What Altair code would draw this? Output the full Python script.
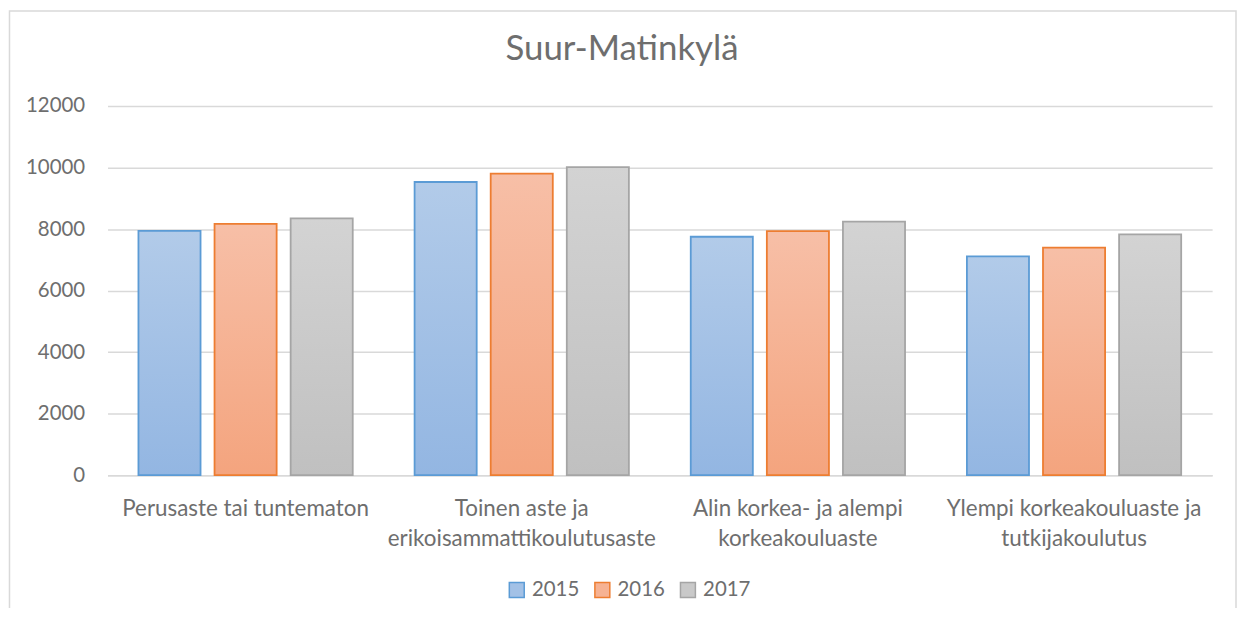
import altair as alt
import pandas as pd

categories = [
    "Perusaste tai tuntematon",
    "Toinen aste ja\nerikoisammattikoulutusaste",
    "Alin korkea- ja alempi\nkorkeakouluaste",
    "Ylempi korkeakouluaste ja\ntutkijakoulutus",
]
years = ["2015", "2016", "2017"]
values_2015 = [7940, 9530, 7750, 7115]
values_2016 = [8165, 9800, 7935, 7395]
values_2017 = [8350, 10010, 8240, 7830]

series = {"2015": values_2015, "2016": values_2016, "2017": values_2017}
rows = []
for y in years:
    for c, v in zip(categories, series[y]):
        rows.append({"category": c, "year": y, "value": v})
df = pd.DataFrame(rows)

grad = {
    "2015": ("#b2cbe9", "#93b6e2", "#5b9bd5"),
    "2016": ("#f7bfa7", "#f4a47e", "#ed7d31"),
    "2017": ("#d3d3d3", "#c0c0c0", "#a5a5a5"),
}
legend_fill = ["#a3c1e6", "#f6b293", "#c9c9c9"]
legend_stroke = ["#5b9bd5", "#ed7d31", "#a5a5a5"]

FONT = "Lato"
TXT = "#6e6e6e"
W, H = 1110, 371

x_enc = alt.X(
    "category:N",
    sort=categories,
    scale=alt.Scale(paddingInner=0.224, paddingOuter=0.112),
    axis=alt.Axis(
        title=None,
        labelAngle=0,
        labelExpr="split(datum.value, '\\n')",
        labelFontSize=22.5,
        labelColor=TXT,
        labelFont=FONT,
        labelPadding=23,
        labelLineHeight=29.5,
        labelLimit=400,
        domain=True,
        domainColor="#d9d9d9",
        domainWidth=1.5,
        ticks=False,
        grid=False,
    ),
)
y_enc = alt.Y(
    "value:Q",
    scale=alt.Scale(domain=[0, 12000], nice=False),
    axis=alt.Axis(
        title=None,
        values=[0, 2000, 4000, 6000, 8000, 10000, 12000],
        format="d",
        labelFontSize=20.5,
        labelColor=TXT,
        labelFont=FONT,
        labelPadding=23,
        domain=False,
        ticks=False,
        grid=True,
        gridColor="#d9d9d9",
        gridWidth=1.5,
    ),
)
xoff = alt.XOffset("year:N", scale=alt.Scale(domain=years, paddingInner=0.184, paddingOuter=0))

layers = []
for y in years:
    top, bot, stroke = grad[y]
    layers.append(
        alt.Chart(df)
        .transform_filter(alt.datum.year == y)
        .mark_bar(
            color=alt.LinearGradient(
                gradient="linear",
                stops=[alt.GradientStop(color=top, offset=0), alt.GradientStop(color=bot, offset=1)],
                x1=0, x2=0, y1=0, y2=1,
            ),
            stroke=stroke,
            strokeWidth=1.8,
        )
        .encode(x=x_enc, y=y_enc, xOffset=xoff)
    )

def make_legend():
    return alt.Legend(
        title=None,
        orient="none",
        direction="horizontal",
        legendX=401,
        legendY=476,
        symbolType="square",
        symbolSize=225,
        symbolOpacity=1,
        symbolStrokeWidth=1.5,
        labelFontSize=20.5,
        labelFont=FONT,
        labelColor=TXT,
        labelOffset=5,
        columnPadding=11,
    )

legend_layer = (
    alt.Chart(df)
    .mark_square(opacity=0)
    .encode(
        x=alt.X("category:N", sort=categories),
        y=alt.Y("value:Q"),
        fill=alt.Fill("year:N", scale=alt.Scale(domain=years, range=legend_fill), legend=make_legend()),
        stroke=alt.Stroke("year:N", scale=alt.Scale(domain=years, range=legend_stroke), legend=make_legend()),
    )
)

border = alt.Chart(df.head(1)).mark_rect(
    fill="transparent", stroke="#d9d9d9", strokeWidth=1.5
).encode(
    x=alt.value(-98.5), x2=alt.value(W + 24), y=alt.value(-95.5), y2=alt.value(H + 160)
)

title_layer = alt.Chart(df.head(1)).mark_text(
    text="Suur-Matinkylä", fontSize=35, font=FONT, color=TXT, align="center", baseline="alphabetic"
).encode(x=alt.value(625 - 108), y=alt.value(59 - 105))

chart = (
    alt.layer(border, *layers, legend_layer, title_layer)
    .properties(width=W, height=H, autosize=alt.AutoSizeParams(type="none"),
                padding={"left": 100, "top": 97, "right": 25, "bottom": 132},
                background="white")
    .configure_view(strokeWidth=0, stroke="transparent")
)

chart.save("out.html", embed_options={"renderer": "svg", "actions": False})
